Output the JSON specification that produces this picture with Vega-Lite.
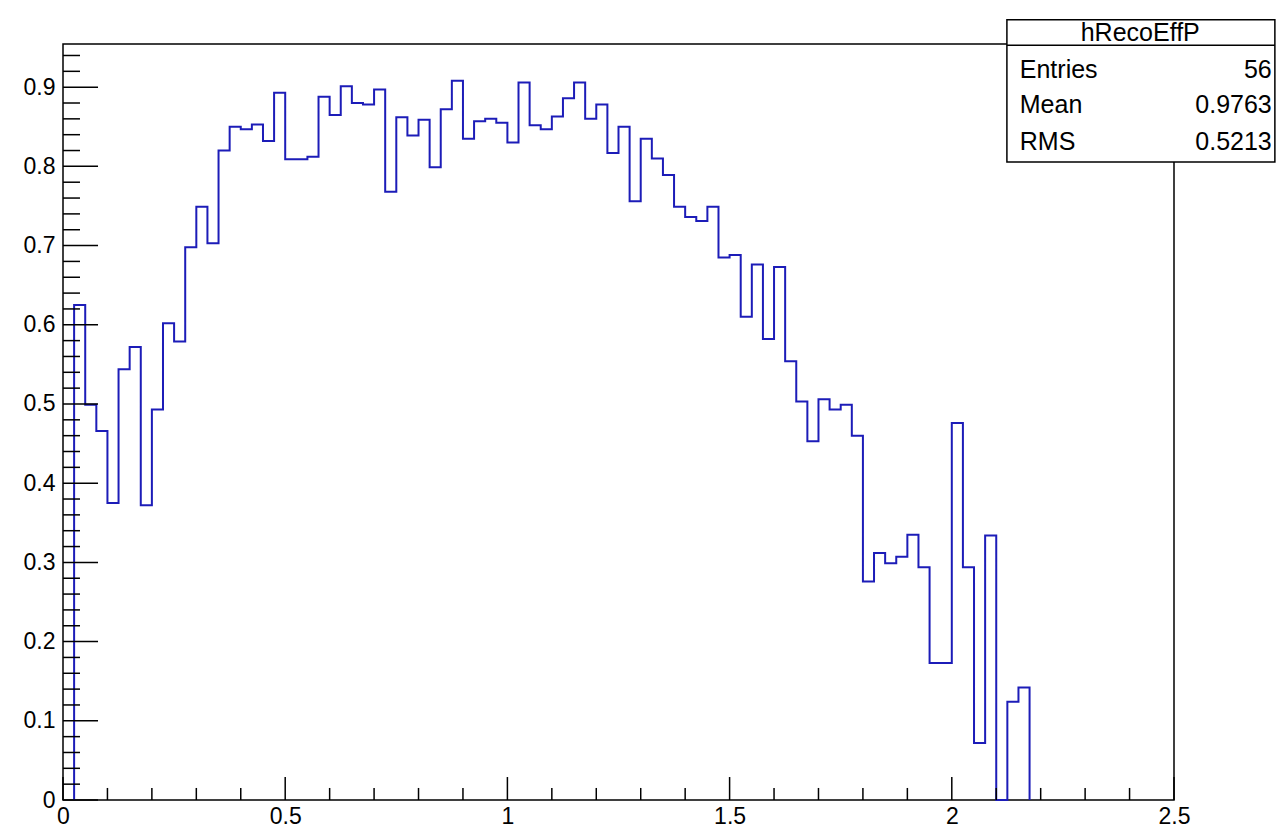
{
  "$schema": "https://vega.github.io/schema/vega-lite/v6.json",
  "width": 1111,
  "height": 756,
  "autosize": "none",
  "padding": {"left": 63, "top": 44, "right": 104, "bottom": 32},
  "background": "white",
  "config": {"view": {"stroke": "black", "strokeWidth": 1.5}, "font": "Liberation Sans"},
  "datasets": {
    "hist": [
      {"x": 0.025, "eff": 0}, {"x": 0.025, "eff": 0.625}, {"x": 0.05, "eff": 0.499}, {"x": 0.075, "eff": 0.466},
      {"x": 0.1, "eff": 0.375}, {"x": 0.125, "eff": 0.544}, {"x": 0.15, "eff": 0.572}, {"x": 0.175, "eff": 0.372},
      {"x": 0.2, "eff": 0.493}, {"x": 0.225, "eff": 0.602}, {"x": 0.25, "eff": 0.579}, {"x": 0.275, "eff": 0.698},
      {"x": 0.3, "eff": 0.749}, {"x": 0.325, "eff": 0.703}, {"x": 0.35, "eff": 0.82}, {"x": 0.375, "eff": 0.85},
      {"x": 0.4, "eff": 0.847}, {"x": 0.425, "eff": 0.853}, {"x": 0.45, "eff": 0.832}, {"x": 0.475, "eff": 0.893},
      {"x": 0.5, "eff": 0.809}, {"x": 0.525, "eff": 0.809}, {"x": 0.55, "eff": 0.812}, {"x": 0.575, "eff": 0.888},
      {"x": 0.6, "eff": 0.865}, {"x": 0.625, "eff": 0.901}, {"x": 0.65, "eff": 0.88}, {"x": 0.675, "eff": 0.878},
      {"x": 0.7, "eff": 0.897}, {"x": 0.725, "eff": 0.768}, {"x": 0.75, "eff": 0.862}, {"x": 0.775, "eff": 0.839},
      {"x": 0.8, "eff": 0.859}, {"x": 0.825, "eff": 0.799}, {"x": 0.85, "eff": 0.872}, {"x": 0.875, "eff": 0.908},
      {"x": 0.9, "eff": 0.835}, {"x": 0.925, "eff": 0.857}, {"x": 0.95, "eff": 0.86}, {"x": 0.975, "eff": 0.855},
      {"x": 1.0, "eff": 0.83}, {"x": 1.025, "eff": 0.906}, {"x": 1.05, "eff": 0.852}, {"x": 1.075, "eff": 0.847},
      {"x": 1.1, "eff": 0.863}, {"x": 1.125, "eff": 0.886}, {"x": 1.15, "eff": 0.906}, {"x": 1.175, "eff": 0.86},
      {"x": 1.2, "eff": 0.878}, {"x": 1.225, "eff": 0.817}, {"x": 1.25, "eff": 0.85}, {"x": 1.275, "eff": 0.756},
      {"x": 1.3, "eff": 0.835}, {"x": 1.325, "eff": 0.81}, {"x": 1.35, "eff": 0.789}, {"x": 1.375, "eff": 0.749},
      {"x": 1.4, "eff": 0.736}, {"x": 1.425, "eff": 0.731}, {"x": 1.45, "eff": 0.749}, {"x": 1.475, "eff": 0.685},
      {"x": 1.5, "eff": 0.688}, {"x": 1.525, "eff": 0.61}, {"x": 1.55, "eff": 0.676}, {"x": 1.575, "eff": 0.582},
      {"x": 1.6, "eff": 0.673}, {"x": 1.625, "eff": 0.554}, {"x": 1.65, "eff": 0.503}, {"x": 1.675, "eff": 0.453},
      {"x": 1.7, "eff": 0.506}, {"x": 1.725, "eff": 0.493}, {"x": 1.75, "eff": 0.499}, {"x": 1.775, "eff": 0.46},
      {"x": 1.8, "eff": 0.276}, {"x": 1.825, "eff": 0.312}, {"x": 1.85, "eff": 0.299}, {"x": 1.875, "eff": 0.307},
      {"x": 1.9, "eff": 0.335}, {"x": 1.925, "eff": 0.294}, {"x": 1.95, "eff": 0.173}, {"x": 1.975, "eff": 0.173},
      {"x": 2.0, "eff": 0.476}, {"x": 2.025, "eff": 0.294}, {"x": 2.05, "eff": 0.072}, {"x": 2.075, "eff": 0.334},
      {"x": 2.1, "eff": 0}, {"x": 2.125, "eff": 0.124}, {"x": 2.15, "eff": 0.142}, {"x": 2.175, "eff": 0}
    ],
    "ymajor": [{"v": 0}, {"v": 0.1}, {"v": 0.2}, {"v": 0.3}, {"v": 0.4}, {"v": 0.5}, {"v": 0.6}, {"v": 0.7}, {"v": 0.8}, {"v": 0.9}],
    "yminor": [
      {"v": 0.02}, {"v": 0.04}, {"v": 0.06}, {"v": 0.08}, {"v": 0.12}, {"v": 0.14}, {"v": 0.16}, {"v": 0.18},
      {"v": 0.22}, {"v": 0.24}, {"v": 0.26}, {"v": 0.28}, {"v": 0.32}, {"v": 0.34}, {"v": 0.36}, {"v": 0.38},
      {"v": 0.42}, {"v": 0.44}, {"v": 0.46}, {"v": 0.48}, {"v": 0.52}, {"v": 0.54}, {"v": 0.56}, {"v": 0.58},
      {"v": 0.62}, {"v": 0.64}, {"v": 0.66}, {"v": 0.68}, {"v": 0.72}, {"v": 0.74}, {"v": 0.76}, {"v": 0.78},
      {"v": 0.82}, {"v": 0.84}, {"v": 0.86}, {"v": 0.88}, {"v": 0.92}, {"v": 0.94}
    ],
    "xmajor": [{"v": 0}, {"v": 0.5}, {"v": 1}, {"v": 1.5}, {"v": 2}, {"v": 2.5}],
    "xminor": [
      {"v": 0.1}, {"v": 0.2}, {"v": 0.3}, {"v": 0.4}, {"v": 0.6}, {"v": 0.7}, {"v": 0.8}, {"v": 0.9},
      {"v": 1.1}, {"v": 1.2}, {"v": 1.3}, {"v": 1.4}, {"v": 1.6}, {"v": 1.7}, {"v": 1.8}, {"v": 1.9},
      {"v": 2.1}, {"v": 2.2}, {"v": 2.3}, {"v": 2.4}
    ],
    "box": [{"x1": 2.124, "x2": 2.727, "y1": 0.8056, "y2": 0.985}],
    "sep": [{"x1": 2.124, "x2": 2.727, "y": 0.953}],
    "header": [{"x": 2.424, "y": 0.968, "t": "hRecoEffP"}],
    "stats": [
      {"y": 0.922, "k": "Entries", "v": "56"},
      {"y": 0.8775, "k": "Mean", "v": "0.9763"},
      {"y": 0.8308, "k": "RMS", "v": "0.5213"}
    ]
  },
  "layer": [
    {
      "data": {"name": "hist"},
      "mark": {"type": "line", "interpolate": "step-after", "color": "#1c1cb8", "strokeWidth": 2},
      "encoding": {
        "x": {
          "field": "x", "type": "quantitative",
          "scale": {"domain": [0, 2.5], "nice": false, "zero": false},
          "axis": {
            "title": null, "grid": false, "domain": false, "ticks": false, "format": "~g",
            "values": [0, 0.5, 1, 1.5, 2, 2.5], "labelOverlap": false,
            "labelFontSize": 23, "labelColor": "black", "labelPadding": 5, "labelFlush": false
          }
        },
        "y": {
          "field": "eff", "type": "quantitative",
          "scale": {"domain": [0, 0.9545], "nice": false},
          "axis": {
            "title": null, "grid": false, "domain": false, "ticks": false, "format": "~g",
            "values": [0, 0.1, 0.2, 0.3, 0.4, 0.5, 0.6, 0.7, 0.8, 0.9], "labelOverlap": false,
            "labelFontSize": 23, "labelColor": "black", "labelPadding": 8, "labelFlush": false
          }
        }
      }
    },
    {
      "data": {"name": "ymajor"},
      "mark": {"type": "rule", "color": "black", "strokeWidth": 1.5},
      "encoding": {"x": {"datum": 0, "type": "quantitative"}, "x2": {"datum": 0.0788}, "y": {"field": "v", "type": "quantitative"}}
    },
    {
      "data": {"name": "yminor"},
      "mark": {"type": "rule", "color": "black", "strokeWidth": 1.5},
      "encoding": {"x": {"datum": 0, "type": "quantitative"}, "x2": {"datum": 0.0382}, "y": {"field": "v", "type": "quantitative"}}
    },
    {
      "data": {"name": "xmajor"},
      "mark": {"type": "rule", "color": "black", "strokeWidth": 1.5},
      "encoding": {"y": {"datum": 0, "type": "quantitative"}, "y2": {"datum": 0.029}, "x": {"field": "v", "type": "quantitative"}}
    },
    {
      "data": {"name": "xminor"},
      "mark": {"type": "rule", "color": "black", "strokeWidth": 1.5},
      "encoding": {"y": {"datum": 0, "type": "quantitative"}, "y2": {"datum": 0.0152}, "x": {"field": "v", "type": "quantitative"}}
    },
    {
      "data": {"name": "box"},
      "mark": {"type": "rect", "fill": "white", "stroke": "black", "strokeWidth": 1.5, "clip": false},
      "encoding": {
        "x": {"field": "x1", "type": "quantitative"}, "x2": {"field": "x2"},
        "y": {"field": "y1", "type": "quantitative"}, "y2": {"field": "y2"}
      }
    },
    {
      "data": {"name": "sep"},
      "mark": {"type": "rule", "color": "black", "strokeWidth": 1.5, "clip": false},
      "encoding": {
        "x": {"field": "x1", "type": "quantitative"}, "x2": {"field": "x2"},
        "y": {"field": "y", "type": "quantitative"}
      }
    },
    {
      "data": {"name": "header"},
      "mark": {"type": "text", "fontSize": 25, "align": "center", "baseline": "middle", "clip": false},
      "encoding": {
        "x": {"field": "x", "type": "quantitative"},
        "y": {"field": "y", "type": "quantitative"},
        "text": {"field": "t"}
      }
    },
    {
      "data": {"name": "stats"},
      "mark": {"type": "text", "fontSize": 25, "align": "left", "baseline": "middle", "clip": false},
      "encoding": {
        "x": {"datum": 2.153, "type": "quantitative"},
        "y": {"field": "y", "type": "quantitative"},
        "text": {"field": "k"}
      }
    },
    {
      "data": {"name": "stats"},
      "mark": {"type": "text", "fontSize": 25, "align": "right", "baseline": "middle", "clip": false},
      "encoding": {
        "x": {"datum": 2.72, "type": "quantitative"},
        "y": {"field": "y", "type": "quantitative"},
        "text": {"field": "v"}
      }
    }
  ]
}
